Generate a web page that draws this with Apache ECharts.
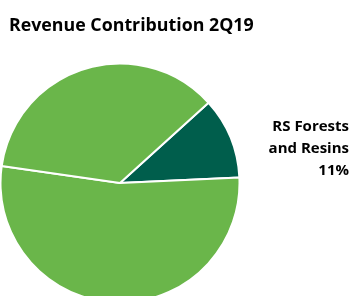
<!DOCTYPE html>
<html>
<head>
<meta charset="utf-8">
<script src="https://cdn.jsdelivr.net/npm/echarts@6/dist/echarts.min.js"></script>
<style>
  html, body { margin: 0; padding: 0; background: #fff; }
  #chart { width: 354px; height: 296px; }
</style>
</head>
<body>
<div id="chart"></div>
<script>
// 各业务收入占比（%）
var segmentNames = ['RS Forests\nand Resins', 'Segment B', 'Segment C'];
var segmentValues = [11, 53, 36];
var segmentColors = ['#005E4C', '#6AB64A', '#6AB64A'];
var labelShown = [true, false, false];

var myChart = echarts.init(document.getElementById('chart'));

var pieData = segmentNames.map(function (name, index) {
	return {
		name: name,
		value: segmentValues[index],
		itemStyle: { color: segmentColors[index] },
		label: { show: labelShown[index] }
	};
});

myChart.setOption({
	animation: false,
	title: {
		text: 'Revenue Contribution 2Q19',
		left: 4,
		top: 12,
		textStyle: {
			fontFamily: 'Open Sans',
			fontWeight: 'bold',
			fontSize: 17.8,
			color: '#000'
		}
	},
	series: [
		{
			type: 'pie',
			center: [120, 183],
			radius: 119.5,
			startAngle: 42.2,
			clockwise: true,
			avoidLabelOverlap: false,
			itemStyle: {
				borderColor: '#fff',
				borderWidth: 2
			},
			label: {
				position: 'outside',
				alignTo: 'edge',
				edgeDistance: 5,
				formatter: function (p) {
					// 首行留空，使标签整体下移
					return '\n' + p.name + '\n' + p.value + '%';
				},
				fontFamily: 'Open Sans',
				fontWeight: 'bold',
				fontSize: 15,
				lineHeight: 22,
				align: 'right',
				color: '#000'
			},
			labelLine: { show: false, length: 0, length2: 0 },
			data: pieData
		}
	]
});
</script>
</body>
</html>
